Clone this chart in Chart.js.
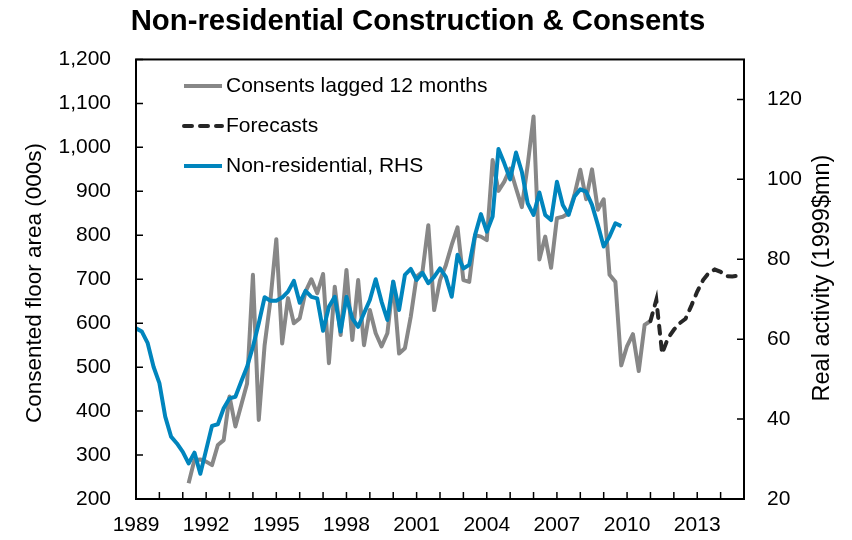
<!DOCTYPE html>
<html><head><meta charset="utf-8">
<script src="https://cdn.jsdelivr.net/npm/chart.js@4/dist/chart.umd.min.js"></script>
<style>html,body{margin:0;padding:0;background:#fff;}#wrap{position:relative;width:852px;height:540px;}</style>
</head><body><div id="wrap"><canvas id="c" width="852" height="540"></canvas></div>
<script>
const chartTitle = 'Non-residential Construction & Consents';
const leftAxisTitle = 'Consented floor area (000s)';
const rightAxisTitle = 'Real activity (1999$mn)';
const seriesNames = ['Consents lagged 12 months', 'Forecasts', 'Non-residential, RHS'];
const xTickLabels = [1989, 1992, 1995, 1998, 2001, 2004, 2007, 2010, 2013];

// quarterly series; first value is the quarter given by *Start
const consentsStart = 1991.25;
const consents = [236, 289, 290, 285, 277, 323, 334, 433, 365, 414, 463, 710, 380, 550, 653, 791,
  554, 657, 600, 611, 672, 700, 668, 712, 509, 683, 573, 721, 562, 698, 550, 630,
  577, 547, 577, 694, 531, 543, 615, 706, 717, 823, 630, 698, 732, 778, 818, 698,
  694, 800, 797, 789, 971, 901, 922, 952, 907, 864, 960, 1070, 745, 797, 726, 839,
  842, 850, 892, 949, 882, 950, 858, 882, 710, 694, 504, 548, 575, 491, 596, 605];

const forecastStart = 2011.0;
const forecasts = [605, 653, 531, 566, 585, 600, 610, 640, 672, 698, 715, 722, 717, 707, 706, 708];

const nonResStart = 1989.0;
const nonResidential = [62.7, 61.9, 59.0, 53.1, 49.0, 40.6, 35.6, 33.9, 31.8, 28.9, 31.6, 26.3,
  32.3, 38.3, 38.7, 42.7, 45.2, 45.6, 49.4, 53.1, 58.1, 64.0, 70.5, 69.6,
  69.6, 70.4, 71.9, 74.6, 69.1, 72.1, 70.6, 70.2, 62.1, 68.1, 70.6, 61.9,
  70.6, 65.2, 63.1, 66.5, 69.8, 75.0, 69.4, 64.8, 74.4, 67.3, 76.1, 77.6,
  74.8, 76.6, 74.0, 75.6, 77.7, 75.6, 70.6, 81.1, 77.7, 78.6, 86.1, 91.3,
  86.9, 90.7, 107.6, 104.0, 100.0, 106.7, 101.9, 94.0, 91.1, 96.7, 91.1, 89.8,
  99.4, 93.6, 91.1, 95.7, 97.5, 96.9, 93.6, 88.6, 83.2, 85.7, 89.0, 88.3];

const FONT = '"Liberation Sans", Arial, sans-serif';
const toPoints = (start, arr) => arr.map((v, i) => ({ x: start + i * 0.25, y: v }));

const decor = {
  id: 'decor',
  afterDraw(chart) {
    const { ctx, chartArea: a, scales } = chart;
    ctx.save();
    ctx.strokeStyle = '#000';
    ctx.lineWidth = 2;
    ctx.strokeRect(a.left, a.top, a.right - a.left, a.bottom - a.top);
    const L = 7;
    ctx.beginPath();
    scales.x.ticks.forEach(t => { const p = scales.x.getPixelForValue(t.value); ctx.moveTo(p, a.bottom); ctx.lineTo(p, a.bottom - L); });
    scales.y.ticks.forEach(t => { const p = scales.y.getPixelForValue(t.value); ctx.moveTo(a.left, p); ctx.lineTo(a.left + L, p); });
    scales.y1.ticks.forEach(t => { const p = scales.y1.getPixelForValue(t.value); ctx.moveTo(a.right, p); ctx.lineTo(a.right - L, p); });
    ctx.lineWidth = 1.5;
    ctx.stroke();

    ctx.fillStyle = '#000';
    ctx.textAlign = 'center';
    ctx.textBaseline = 'middle';
    ctx.font = '22.5px ' + FONT;
    ctx.save(); ctx.translate(35, 283); ctx.rotate(-Math.PI / 2); ctx.fillText(leftAxisTitle, 0, 0); ctx.restore();
    ctx.font = '23.5px ' + FONT;
    ctx.save(); ctx.translate(823, 278); ctx.rotate(-Math.PI / 2); ctx.fillText(rightAxisTitle, 0, 0); ctx.restore();

    // legend
    ctx.font = '21px ' + FONT;
    const rows = [86, 126, 166];
    ctx.textAlign = 'left';
    chart.data.datasets.forEach((ds, i) => {
      const y = rows[i];
      ctx.save();
      ctx.strokeStyle = ds.borderColor;
      ctx.lineWidth = ds.borderWidth;
      ctx.lineCap = ds.borderCapStyle || 'butt';
      ctx.setLineDash(ds.borderDash || []);
      ctx.beginPath(); ctx.moveTo(184, y); ctx.lineTo(222, y); ctx.stroke();
      ctx.restore();
      ctx.fillText(ds.label, 226, y);
    });
    ctx.restore();
  }
};

new Chart(document.getElementById('c'), {
  type: 'line',
  data: {
    datasets: [
      { label: seriesNames[0], data: toPoints(consentsStart, consents), yAxisID: 'y', borderColor: '#878787', borderWidth: 4, pointRadius: 0, tension: 0, order: 2, borderJoinStyle: 'round' },
      { label: seriesNames[1], data: toPoints(forecastStart, forecasts), yAxisID: 'y', borderColor: '#262626', borderWidth: 4, borderDash: [8, 8], borderCapStyle: 'round', pointRadius: 0, tension: 0, order: 1 },
      { label: seriesNames[2], data: toPoints(nonResStart, nonResidential), yAxisID: 'y1', borderColor: '#0085BD', borderWidth: 4, pointRadius: 0, tension: 0, order: 0, borderJoinStyle: 'round' }
    ]
  },
  options: {
    responsive: false,
    devicePixelRatio: 1,
    animation: false,
    layout: { padding: { left: 0, right: 16, top: 0, bottom: 0 } },
    plugins: {
      legend: { display: false },
      tooltip: { enabled: false },
      title: { display: true, text: chartTitle, color: '#000', font: { family: FONT, size: 29.3, weight: 'bold' }, padding: { top: 4, bottom: 20.3 } }
    },
    scales: {
      x: {
        type: 'linear', min: 1989, max: 2015,
        grid: { display: false, drawTicks: false }, border: { display: false },
        ticks: { stepSize: 1, autoSkip: false, maxRotation: 0, padding: 14, color: '#000', font: { family: FONT, size: 21 },
          callback: v => xTickLabels.includes(v) ? String(v) : '' },
        afterFit: s => { s.height = 41; }
      },
      y: {
        position: 'left', min: 200, max: 1200,
        grid: { display: false, drawTicks: false }, border: { display: false },
        ticks: { stepSize: 100, padding: 25, color: '#000', font: { family: FONT, size: 21 },
          callback: v => v.toLocaleString('en-US') },
        afterFit: s => { s.width = 136; }
      },
      y1: {
        position: 'right', min: 20, max: 130,
        grid: { display: false, drawTicks: false }, border: { display: false },
        ticks: { stepSize: 20, includeBounds: false, padding: 23, color: '#000', font: { family: FONT, size: 21 } },
        afterFit: s => { s.width = 92; }
      }
    }
  },
  plugins: [decor]
});
</script></body></html>
